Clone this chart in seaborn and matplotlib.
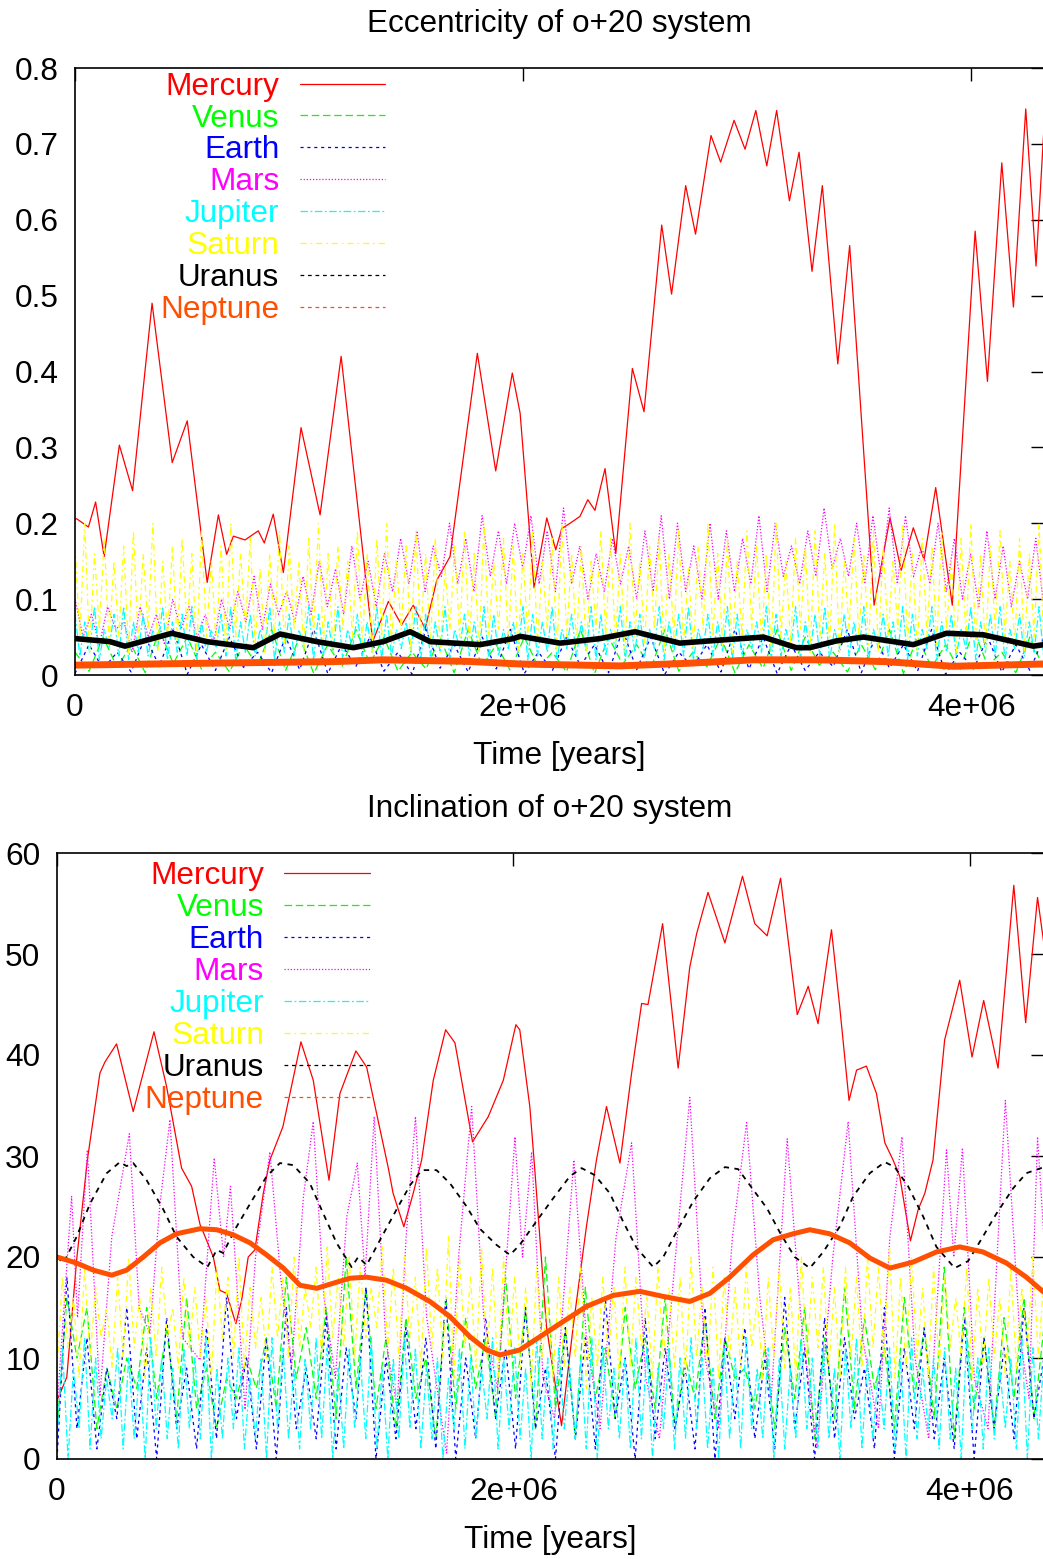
import numpy as np
import matplotlib
matplotlib.use("Agg")
import matplotlib.pyplot as plt
import seaborn as sns
from matplotlib.lines import Line2D

# ---------------- data (time in Myr) ----------------
T_END = 4.325

planets = ["Mercury", "Venus", "Earth", "Mars", "Jupiter", "Saturn", "Uranus", "Neptune"]
colors = ["#ff0000", "#00ff00", "#0000ff", "#ff00ff", "#00ffff", "#ffff00", "#000000", "#ff4f00"]

# --- eccentricity ---
merc_ecc_t = [0.000, 0.007, 0.060, 0.092, 0.130,
              0.198, 0.257, 0.344, 0.434, 0.501,
              0.590, 0.640, 0.677, 0.707, 0.759,
              0.818, 0.845, 0.885, 0.930, 1.009,
              1.094, 1.188, 1.329, 1.399, 1.458,
              1.510, 1.563, 1.615, 1.674, 1.796,
              1.878, 1.952, 1.987, 2.049, 2.106,
              2.146, 2.173, 2.210, 2.254, 2.289,
              2.321, 2.366, 2.414, 2.488, 2.540,
              2.619, 2.663, 2.726, 2.770, 2.839,
              2.882, 2.942, 2.991, 3.039, 3.088,
              3.132, 3.189, 3.232, 3.290, 3.336,
              3.405, 3.458, 3.567, 3.638, 3.688,
              3.742, 3.790, 3.842, 3.916, 4.018,
              4.073, 4.137, 4.189, 4.244, 4.290,
              4.325]
merc_ecc = [0.205, 0.206, 0.195, 0.228, 0.156,
            0.303, 0.243, 0.490, 0.280, 0.335,
            0.122, 0.211, 0.159, 0.183, 0.178,
            0.190, 0.174, 0.212, 0.135, 0.326,
            0.211, 0.420, 0.044, 0.097, 0.066,
            0.092, 0.061, 0.125, 0.156, 0.424,
            0.269, 0.398, 0.345, 0.115, 0.207,
            0.165, 0.193, 0.200, 0.209, 0.231,
            0.217, 0.272, 0.160, 0.404, 0.347,
            0.593, 0.502, 0.645, 0.581, 0.711,
            0.676, 0.731, 0.693, 0.744, 0.671,
            0.744, 0.625, 0.689, 0.532, 0.645,
            0.410, 0.566, 0.092, 0.207, 0.138,
            0.194, 0.152, 0.247, 0.092, 0.585,
            0.387, 0.675, 0.485, 0.746, 0.539,
            0.720]

venus_ecc_hi = [0.03, 0.05, 0.04, 0.06, 0.05, 0.03, 0.04, 0.06, 0.05, 0.04,
                0.06, 0.05, 0.03, 0.05, 0.06, 0.04, 0.05, 0.03, 0.06, 0.05,
                0.04, 0.06, 0.03, 0.05, 0.04, 0.06, 0.05, 0.03, 0.04, 0.06,
                0.05, 0.04, 0.06, 0.03, 0.05]
venus_ecc_lo = [0.005, 0.010, 0.003, 0.015, 0.008, 0.004, 0.012, 0.006, 0.002, 0.010,
                0.015, 0.005, 0.008, 0.003, 0.012, 0.006, 0.010, 0.004, 0.002, 0.014,
                0.008, 0.005, 0.011, 0.003, 0.009, 0.006, 0.013, 0.004, 0.007, 0.002,
                0.010, 0.005, 0.012, 0.003, 0.008]
earth_ecc_hi = [0.04, 0.03, 0.05, 0.06, 0.04, 0.05, 0.03, 0.05, 0.06, 0.04,
                0.05, 0.03, 0.06, 0.04, 0.05, 0.06, 0.03, 0.05, 0.04, 0.06,
                0.05, 0.03, 0.04, 0.06, 0.05, 0.04, 0.03, 0.06, 0.05, 0.04,
                0.06, 0.03, 0.05, 0.04, 0.05]
earth_ecc_lo = [0.002, 0.008, 0.004, 0.012, 0.001, 0.006, 0.010, 0.003, 0.007, 0.002,
                0.011, 0.005, 0.001, 0.009, 0.004, 0.008, 0.002, 0.006, 0.012, 0.003,
                0.007, 0.001, 0.010, 0.004, 0.008, 0.002, 0.006, 0.011, 0.003, 0.009,
                0.005, 0.001, 0.008, 0.004, 0.006]
mars_ecc_hi = [0.10, 0.08, 0.09, 0.07, 0.09, 0.08, 0.10, 0.09, 0.08, 0.10,
               0.11, 0.13, 0.12, 0.11, 0.13, 0.15, 0.14, 0.17, 0.15, 0.16,
               0.18, 0.19, 0.17, 0.20, 0.18, 0.21, 0.19, 0.20, 0.21, 0.19,
               0.22, 0.17, 0.16, 0.18, 0.17, 0.19, 0.21, 0.20, 0.17, 0.20,
               0.19, 0.18, 0.21, 0.20, 0.17, 0.19, 0.22, 0.18, 0.20, 0.21,
               0.22, 0.21, 0.17, 0.20, 0.18, 0.16, 0.19, 0.17, 0.15, 0.18]
mars_ecc_lo = [0.05, 0.04, 0.06, 0.03, 0.05, 0.04, 0.06, 0.05, 0.04, 0.06,
               0.07, 0.06, 0.08, 0.07, 0.08, 0.09, 0.08, 0.10, 0.09, 0.11,
               0.12, 0.11, 0.13, 0.12, 0.11, 0.13, 0.12, 0.14, 0.12, 0.11,
               0.12, 0.10, 0.11, 0.12, 0.10, 0.11, 0.10, 0.11, 0.10, 0.10,
               0.11, 0.12, 0.11, 0.13, 0.12, 0.13, 0.14, 0.13, 0.12, 0.13,
               0.12, 0.13, 0.12, 0.11, 0.10, 0.09, 0.10, 0.09, 0.10, 0.09]
jup_ecc_hi = [0.08, 0.07, 0.09, 0.06, 0.08, 0.09, 0.07, 0.08, 0.06, 0.09,
              0.07, 0.08, 0.09, 0.07, 0.06, 0.08, 0.09, 0.07, 0.08, 0.06,
              0.09, 0.07, 0.08, 0.06, 0.09, 0.08, 0.07, 0.09, 0.06, 0.08,
              0.07, 0.09, 0.08, 0.06, 0.07, 0.09, 0.08, 0.07, 0.09, 0.06,
              0.08, 0.07, 0.09, 0.08, 0.06, 0.07, 0.09, 0.08, 0.07, 0.09,
              0.06, 0.08, 0.07, 0.09, 0.08, 0.06, 0.09, 0.07, 0.08, 0.06,
              0.09, 0.07, 0.08, 0.09, 0.06, 0.08, 0.07, 0.09, 0.08, 0.06,
              0.07, 0.09, 0.08, 0.06, 0.09, 0.07, 0.08, 0.09, 0.06, 0.08,
              0.07, 0.09, 0.06, 0.08, 0.07, 0.09, 0.08, 0.06, 0.09, 0.07,
              0.08, 0.06, 0.09, 0.07, 0.08, 0.09, 0.06, 0.08, 0.07, 0.09]
jup_ecc_lo = [0.025, 0.030, 0.020, 0.035, 0.025, 0.020, 0.030, 0.025, 0.035, 0.020,
              0.030, 0.025, 0.020, 0.030, 0.035, 0.025, 0.020, 0.030, 0.025, 0.035,
              0.020, 0.030, 0.025, 0.035, 0.020, 0.025, 0.030, 0.020, 0.035, 0.025,
              0.030, 0.020, 0.025, 0.035, 0.030, 0.020, 0.025, 0.030, 0.020, 0.035,
              0.025, 0.030, 0.020, 0.025, 0.035, 0.030, 0.020, 0.025, 0.030, 0.020,
              0.035, 0.025, 0.030, 0.020, 0.025, 0.035, 0.020, 0.030, 0.025, 0.035,
              0.020, 0.030, 0.025, 0.020, 0.035, 0.025, 0.030, 0.020, 0.025, 0.035,
              0.030, 0.020, 0.025, 0.035, 0.020, 0.030, 0.025, 0.020, 0.035, 0.025,
              0.030, 0.020, 0.035, 0.025, 0.030, 0.020, 0.025, 0.035, 0.020, 0.030,
              0.025, 0.035, 0.020, 0.030, 0.025, 0.020, 0.035, 0.025, 0.030, 0.020]
sat_ecc_hi = [0.17, 0.20, 0.16, 0.18, 0.15, 0.17, 0.19, 0.16, 0.20, 0.15,
              0.17, 0.18, 0.16, 0.19, 0.15, 0.17, 0.20, 0.16, 0.18, 0.14,
              0.16, 0.19, 0.17, 0.15, 0.18, 0.20, 0.16, 0.17, 0.15, 0.19,
              0.16, 0.18, 0.20, 0.15, 0.17, 0.19, 0.16, 0.18, 0.14, 0.17,
              0.19, 0.16, 0.20, 0.15, 0.18, 0.17, 0.16, 0.19, 0.15, 0.18,
              0.20, 0.16, 0.17, 0.15, 0.19, 0.18, 0.16, 0.20, 0.15, 0.17,
              0.18, 0.16, 0.19, 0.14, 0.17, 0.20, 0.16, 0.18, 0.15, 0.19,
              0.17, 0.16, 0.20, 0.15, 0.18, 0.17, 0.19, 0.16, 0.20, 0.15,
              0.18, 0.16, 0.19, 0.17, 0.15, 0.20, 0.16, 0.18, 0.17, 0.19,
              0.15, 0.18, 0.20, 0.16, 0.17, 0.19, 0.15, 0.18, 0.16, 0.20]
sat_ecc_lo = [0.05, 0.03, 0.06, 0.04, 0.05, 0.03, 0.04, 0.06, 0.03, 0.05,
              0.04, 0.06, 0.03, 0.05, 0.04, 0.03, 0.05, 0.06, 0.04, 0.03,
              0.05, 0.04, 0.06, 0.03, 0.05, 0.04, 0.03, 0.06, 0.05, 0.04,
              0.03, 0.05, 0.04, 0.06, 0.03, 0.05, 0.04, 0.03, 0.06, 0.05,
              0.04, 0.03, 0.05, 0.06, 0.04, 0.03, 0.05, 0.04, 0.06, 0.03,
              0.05, 0.04, 0.03, 0.06, 0.05, 0.04, 0.03, 0.05, 0.04, 0.06,
              0.03, 0.05, 0.04, 0.03, 0.06, 0.05, 0.04, 0.03, 0.05, 0.06,
              0.04, 0.03, 0.05, 0.04, 0.06, 0.03, 0.05, 0.04, 0.03, 0.06,
              0.05, 0.04, 0.03, 0.05, 0.06, 0.04, 0.03, 0.05, 0.04, 0.06,
              0.03, 0.05, 0.04, 0.03, 0.06, 0.05, 0.04, 0.03, 0.05, 0.04]
ura_ecc_t = [0.000, 0.156, 0.223, 0.432, 0.588, 0.796, 0.915, 1.079, 1.243, 1.376,
             1.496, 1.585, 1.808, 1.957, 1.987, 2.165, 2.344, 2.500, 2.700, 2.880,
             3.073, 3.220, 3.280, 3.400, 3.520, 3.742, 3.890, 4.055, 4.278, 4.325]
ura_ecc = [0.048, 0.044, 0.038, 0.055, 0.044, 0.036, 0.054, 0.044, 0.036, 0.044,
           0.057, 0.044, 0.040, 0.048, 0.051, 0.042, 0.048, 0.057, 0.042, 0.046,
           0.050, 0.036, 0.036, 0.045, 0.050, 0.040, 0.055, 0.053, 0.038, 0.040]
nep_ecc_t = [0.000, 0.558, 1.153, 1.376, 1.749, 1.987, 2.433, 2.730, 3.030, 3.326,
             3.620, 3.920, 4.325]
nep_ecc = [0.013, 0.0154, 0.0176, 0.020, 0.018, 0.0145, 0.012, 0.0154, 0.020, 0.020,
           0.0176, 0.0115, 0.0145]

# --- inclination (degrees) ---
merc_inc_t = [0.000, 0.006, 0.043, 0.086, 0.133, 0.188, 0.210, 0.261, 0.334, 0.425,
              0.480, 0.546, 0.590, 0.627, 0.644, 0.685, 0.714, 0.743, 0.784, 0.809,
              0.838, 0.867, 0.904, 0.933, 0.990, 1.069, 1.123, 1.192, 1.240, 1.310,
              1.357, 1.452, 1.473, 1.520, 1.561, 1.598, 1.649, 1.703, 1.744, 1.821,
              1.890, 1.956, 2.011, 2.028, 2.072, 2.094, 2.145, 2.211, 2.262, 2.320,
              2.364, 2.408, 2.467, 2.518, 2.562, 2.590, 2.654, 2.722, 2.773, 2.803,
              2.853, 2.927, 3.004, 3.058, 3.112, 3.171, 3.244, 3.292, 3.335, 3.394,
              3.430, 3.471, 3.504, 3.547, 3.591, 3.628, 3.664, 3.693, 3.740, 3.774,
              3.803, 3.839, 3.890, 3.956, 4.010, 4.061, 4.124, 4.193, 4.245, 4.297,
              4.325]
merc_inc = [6.0, 6.1, 8.1, 19.7, 29.6, 38.2, 39.3, 41.1, 34.4, 42.3,
            36.9, 28.8, 27.0, 23.2, 22.3, 20.0, 16.7, 16.4, 13.4, 15.7,
            20.0, 20.7, 26.3, 29.6, 32.9, 41.3, 37.5, 27.6, 36.2, 40.4,
            38.8, 28.8, 26.3, 23.0, 26.3, 29.6, 37.5, 42.5, 41.2, 31.4,
            33.9, 37.5, 43.0, 42.5, 34.9, 28.6, 13.1, 3.3, 13.1, 23.0,
            29.6, 34.9, 29.3, 38.2, 45.1, 45.0, 53.0, 38.7, 48.7, 52.0,
            56.1, 51.1, 57.7, 53.0, 51.8, 57.5, 44.0, 46.8, 43.1, 52.4,
            44.8, 35.5, 38.5, 38.9, 36.2, 31.3, 29.6, 28.0, 21.6, 24.7,
            26.3, 29.6, 41.5, 47.4, 39.8, 45.4, 38.7, 56.8, 43.2, 55.6,
            51.0]
venus_inc_lo = [3, 10, 3, 5, 7, 6, 4, 5, 3, 6,
                7, 5, 8, 6, 4, 7, 5, 3, 6, 2,
                5, 7, 4, 6, 3, 5, 2, 6, 4, 7,
                5, 3, 6, 4, 8, 5, 3, 6, 2, 4,
                5, 7, 3, 6, 4, 2, 5, 3, 6, 4]
venus_inc_hi = [16, 15, 9, 10, 15, 13, 16, 9, 8, 10,
                12, 18, 13, 15, 20, 17, 12, 14, 10, 16,
                14, 12, 18, 15, 20, 13, 17, 11, 15, 12,
                16, 10, 14, 12, 9, 11, 13, 15, 12, 17,
                14, 11, 16, 13, 19, 15, 12, 14, 16, 13]
earth_inc_lo = [0, 3, 1, 4, 2, 0, 3, 1, 2, 4,
                1, 0, 3, 2, 1, 4, 0, 2, 3, 1,
                0, 2, 4, 1, 3, 0, 2, 1, 4, 0,
                2, 3, 1, 0, 4, 2, 1, 3, 0, 2,
                4, 1, 0, 3, 2, 1, 0, 3, 2, 4]
earth_inc_hi = [18, 12, 9, 15, 11, 14, 9, 13, 16, 10,
                12, 15, 9, 14, 11, 17, 10, 13, 12, 16,
                10, 14, 11, 15, 9, 13, 12, 16, 10, 14,
                11, 9, 15, 12, 13, 10, 16, 11, 14, 12,
                9, 15, 11, 13, 10, 14, 12, 11, 15, 10]
mars_inc_t = [0.000, 0.064, 0.090, 0.133, 0.188, 0.240, 0.317, 0.360, 0.407, 0.450,
              0.495, 0.550, 0.627, 0.689, 0.730, 0.760, 0.824, 0.870, 0.933, 0.980,
              1.028, 1.080, 1.123, 1.170, 1.220, 1.270, 1.316, 1.350, 1.390, 1.440,
              1.490, 1.530, 1.571, 1.620, 1.707, 1.760, 1.817, 1.870, 1.930, 2.007,
              2.040, 2.080, 2.130, 2.180, 2.265, 2.320, 2.380, 2.450, 2.518, 2.580,
              2.640, 2.710, 2.773, 2.840, 2.900, 2.960, 3.022, 3.080, 3.130, 3.200,
              3.260, 3.330, 3.400, 3.467, 3.530, 3.600, 3.650, 3.703, 3.760, 3.820,
              3.898, 3.930, 3.968, 4.020, 4.080, 4.156, 4.220, 4.260, 4.297, 4.325]
mars_inc = [5, 26, 14, 30.6, 6.2, 22, 32.2, 15, 12.4, 25,
            33.6, 12, 9.8, 29.8, 20, 27, 4.9, 20, 30.4, 18,
            9.1, 26, 33.4, 16, 8, 24, 29.3, 18, 33.9, 12,
            5, 22, 33.9, 14, 0.6, 20, 34.9, 14, 7, 31.9,
            20, 30.4, 8, 4, 29.6, 12, 3, 22, 31.3, 8,
            2, 20, 35.8, 10, 3, 22, 33.3, 16, 6, 31.7,
            14, 1, 20, 33.4, 12, 3, 22, 31.9, 10, 2,
            30.6, 20, 30.8, 8, 3, 35.5, 12, 6, 31.9, 22]
jup_inc_lo = [2, 0, 3, 1, 2, 4, 1, 2, 0, 3,
              2, 1, 3, 2, 0, 2, 3, 1, 2, 0,
              3, 2, 1, 3, 2, 0, 1, 3, 2, 1,
              0, 2, 3, 1, 2, 0, 3, 1, 2, 4,
              1, 3, 2, 0, 2, 1, 3, 2, 1, 0,
              3, 2, 1, 2, 0, 3, 1, 2, 3, 1,
              0, 2, 1, 3, 2, 0, 1, 2, 3, 1,
              2, 0, 3, 1, 2, 3, 1, 0, 2, 3,
              1, 2, 0, 3, 1, 2, 3, 1, 0, 2]
jup_inc_hi = [11, 9, 12, 10, 8, 11, 10, 9, 12, 10,
              9, 11, 10, 12, 9, 10, 11, 8, 10, 12,
              11, 9, 10, 12, 11, 9, 11, 10, 12, 9,
              10, 12, 11, 9, 10, 8, 11, 10, 9, 12,
              10, 11, 9, 12, 10, 11, 9, 10, 12, 11,
              9, 10, 12, 11, 9, 11, 10, 12, 10, 9,
              11, 10, 12, 9, 11, 10, 9, 12, 10, 11,
              9, 11, 12, 10, 9, 11, 10, 12, 9, 10,
              11, 9, 12, 10, 11, 9, 10, 12, 11, 10]
sat_inc_lo = [9, 11, 8, 10, 12, 9, 10, 11, 8, 10,
              12, 9, 11, 10, 8, 12, 10, 9, 11, 10,
              12, 10, 11, 13, 10, 12, 11, 10, 12, 13,
              11, 10, 12, 9, 11, 10, 8, 11, 9, 10,
              8, 10, 9, 7, 10, 8, 9, 10, 7, 9,
              10, 8, 9, 11, 8, 10, 9, 8, 10, 9,
              8, 10, 9, 11, 8, 10, 9, 8, 10, 11,
              9, 8, 10, 9, 11, 10, 8, 9, 10, 8,
              9, 11, 10, 8, 9, 10, 8, 9, 11, 10]
sat_inc_hi = [18, 16, 19, 17, 15, 18, 20, 16, 17, 19,
              15, 18, 17, 16, 19, 18, 20, 17, 16, 19,
              18, 20, 17, 19, 21, 18, 20, 19, 17, 21,
              19, 20, 18, 21, 19, 22, 20, 18, 21, 19,
              20, 18, 17, 19, 16, 18, 17, 19, 16, 18,
              17, 19, 18, 16, 19, 17, 18, 20, 17, 19,
              18, 17, 19, 16, 18, 19, 17, 20, 18, 19,
              17, 19, 18, 20, 19, 21, 18, 20, 17, 19,
              18, 16, 19, 17, 18, 16, 19, 17, 20, 18]
ura_inc_t = [0.000, 0.028, 0.086, 0.145, 0.218, 0.276, 0.305, 0.334, 0.393, 0.466,
             0.524, 0.597, 0.659, 0.700, 0.728, 0.787, 0.860, 0.919, 0.977, 1.035,
             1.108, 1.167, 1.225, 1.291, 1.320, 1.357, 1.416, 1.488, 1.547, 1.598,
             1.663, 1.722, 1.795, 1.853, 1.926, 1.985, 2.028, 2.100, 2.174, 2.248,
             2.299, 2.357, 2.423, 2.481, 2.540, 2.613, 2.657, 2.715, 2.788, 2.861,
             2.927, 2.985, 3.053, 3.112, 3.171, 3.233, 3.299, 3.358, 3.430, 3.489,
             3.562, 3.628, 3.671, 3.730, 3.796, 3.854, 3.934, 3.993, 4.044, 4.117,
             4.190, 4.248, 4.325]
ura_inc = [20.0, 19.4, 22.0, 25.3, 28.3, 29.4, 29.0, 29.3, 27.6, 24.7,
           22.0, 20.0, 19.0, 20.7, 20.4, 23.0, 25.8, 28.0, 29.3, 29.1,
           27.3, 24.3, 21.4, 19.0, 20.0, 19.2, 21.7, 24.7, 27.1, 28.6,
           28.6, 27.3, 25.0, 22.8, 21.2, 20.2, 21.2, 23.5, 25.8, 28.0,
           28.8, 28.1, 26.3, 23.5, 20.9, 19.0, 20.0, 22.5, 25.5, 27.8,
           28.9, 28.7, 26.6, 24.8, 22.3, 20.0, 18.9, 20.5, 23.0, 26.0,
           28.3, 29.4, 28.9, 27.0, 24.0, 21.0, 18.9, 19.6, 21.5, 24.3,
           26.8, 28.3, 28.9]
nep_inc_t = [0.000, 0.086, 0.159, 0.240, 0.305, 0.378, 0.451, 0.524, 0.627, 0.700,
             0.772, 0.846, 0.919, 0.992, 1.065, 1.138, 1.210, 1.284, 1.357, 1.444,
             1.532, 1.634, 1.722, 1.810, 1.883, 1.941, 2.028, 2.116, 2.204, 2.320,
             2.437, 2.554, 2.656, 2.773, 2.861, 2.948, 3.050, 3.138, 3.226, 3.299,
             3.386, 3.474, 3.562, 3.650, 3.752, 3.854, 3.956, 4.058, 4.161, 4.248,
             4.325]
nep_inc = [20.0, 19.4, 18.7, 18.2, 18.7, 20.0, 21.4, 22.3, 22.8, 22.7,
           22.2, 21.4, 20.2, 18.9, 17.2, 16.9, 17.4, 17.9, 18.0, 17.7,
           16.9, 15.6, 14.1, 12.1, 10.8, 10.3, 10.8, 12.1, 13.4, 15.1,
           16.2, 16.6, 16.1, 15.6, 16.4, 18.0, 20.2, 21.7, 22.3, 22.7,
           22.3, 21.4, 19.9, 18.9, 19.5, 20.5, 21.0, 20.5, 19.4, 18.0,
           16.5]


def alternate(first, second):
    return np.column_stack([first, second]).ravel()


def even_times(values):
    return np.linspace(0.0, T_END, len(values)) * 1e6


# ---------------- styling ----------------
sns.set_style("white")
plt.rcParams["font.family"] = ["Liberation Sans", "DejaVu Sans"]
plt.rcParams["text.color"] = "black"
plt.rcParams["axes.labelcolor"] = "black"
plt.rcParams["axes.titlecolor"] = "black"
FS = 22.7

styles = {
    "Mercury": "-",
    "Venus": (0, (6, 3)),
    "Earth": (0, (2.5, 3)),
    "Mars": (0, (1, 1.5)),
    "Jupiter": (0, (6, 2, 1.5, 2)),
    "Saturn": (0, (5, 3, 1.5, 3)),
    "Uranus": (0, (3, 3)),
    "Neptune": (0, (3, 3)),
}
col = dict(zip(planets, colors))

fig = plt.figure(figsize=(10.43, 15.59), dpi=100)
ax1 = fig.add_axes([75 / 1043, 1 - 675 / 1559, 968 / 1043, 607 / 1559])
ax2 = fig.add_axes([57 / 1043, 1 - 1459 / 1559, 986 / 1043, 606 / 1559])


def draw(ax, t, v, name, lw=0.9, ls=None):
    sns.lineplot(x=np.asarray(t, dtype=float), y=np.asarray(v, dtype=float), ax=ax,
                 color=col[name], linestyle=styles[name] if ls is None else ls,
                 linewidth=lw, sort=False, estimator=None, legend=False)


# eccentricity panel
draw(ax1, np.asarray(merc_ecc_t) * 1e6, merc_ecc, "Mercury")
v = alternate(venus_ecc_hi, venus_ecc_lo); draw(ax1, even_times(v), v, "Venus")
v = alternate(earth_ecc_lo, earth_ecc_hi); draw(ax1, even_times(v), v, "Earth")
v = alternate(mars_ecc_hi, mars_ecc_lo); draw(ax1, even_times(v), v, "Mars")
v = alternate(jup_ecc_hi, jup_ecc_lo); draw(ax1, even_times(v), v, "Jupiter")
v = alternate(sat_ecc_hi, sat_ecc_lo); draw(ax1, even_times(v), v, "Saturn")
draw(ax1, np.asarray(ura_ecc_t) * 1e6, ura_ecc, "Uranus", lw=4.0, ls="-")
draw(ax1, np.asarray(nep_ecc_t) * 1e6, nep_ecc, "Neptune", lw=5.0, ls="-")

# inclination panel
draw(ax2, np.asarray(merc_inc_t) * 1e6, merc_inc, "Mercury")
v = alternate(venus_inc_lo, venus_inc_hi); draw(ax2, even_times(v), v, "Venus")
v = alternate(earth_inc_lo, earth_inc_hi); draw(ax2, even_times(v), v, "Earth")
draw(ax2, np.asarray(mars_inc_t) * 1e6, mars_inc, "Mars")
v = alternate(jup_inc_lo, jup_inc_hi); draw(ax2, even_times(v), v, "Jupiter")
v = alternate(sat_inc_lo, sat_inc_hi); draw(ax2, even_times(v), v, "Saturn")
draw(ax2, np.asarray(ura_inc_t) * 1e6, ura_inc, "Uranus", lw=1.3)
draw(ax2, np.asarray(nep_inc_t) * 1e6, nep_inc, "Neptune", lw=3.6, ls="-")


def finish(ax, title, yticks, ylim, anchor):
    ax.set_xlim(0, 4.321e6)
    ax.set_ylim(*ylim)
    ax.set_xticks([0, 2e6, 4e6])
    ax.set_xticklabels(["0", "2e+06", "4e+06"])
    ax.set_yticks(yticks)
    ax.set_yticklabels(["%g" % y for y in yticks])
    ax.tick_params(direction="in", length=9, width=1, top=True, right=True,
                   labelsize=FS, colors="black")
    ax.tick_params(axis="x", pad=13)
    ax.tick_params(axis="y", pad=12)
    for s in ["left", "top", "bottom"]:
        ax.spines[s].set_visible(True)
        ax.spines[s].set_linewidth(1.2)
        ax.spines[s].set_color("black")
    ax.spines["right"].set_visible(False)
    ax.set_title(title, fontsize=FS, pad=26, color="black")
    ax.set_xlabel("Time [years]", fontsize=FS, labelpad=13, color="black")
    ax.set_ylabel("")
    ax.grid(False)
    handles = [Line2D([], [], color=col[p], linestyle=styles[p], linewidth=0.9) for p in planets]
    leg = ax.legend(handles, planets, loc="upper right", bbox_to_anchor=anchor,
                    frameon=False, markerfirst=False, fontsize=FS, handlelength=2.7,
                    handletextpad=0.65, labelspacing=0.06, borderpad=0, borderaxespad=0)
    for txt, c in zip(leg.get_texts(), colors):
        txt.set_color(c)


finish(ax1, "Eccentricity of o+20 system", [0, 0.1, 0.2, 0.3, 0.4, 0.5, 0.6, 0.7, 0.8],
       (0, 0.8), (0.320, 0.994))
finish(ax2, "Inclination of o+20 system", [0, 10, 20, 30, 40, 50, 60],
       (0, 60), (0.317, 0.986))

fig.savefig("out.png", dpi=100, facecolor="white")
